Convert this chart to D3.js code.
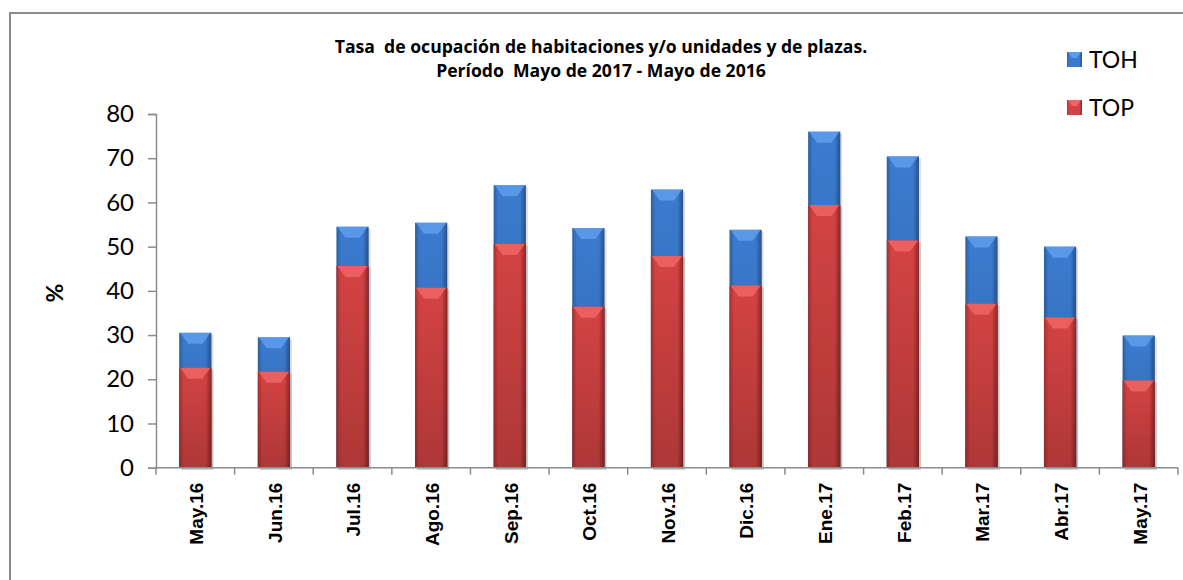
<!DOCTYPE html>
<html>
<head>
<meta charset="utf-8">
<script src="https://cdn.jsdelivr.net/npm/d3@7/dist/d3.min.js"></script>
<style>
	body { margin: 0; background: #fff; }
	svg { display: block; }
</style>
</head>
<body>
<div id="chart"></div>
<script>
var categories = ['May.16', 'Jun.16', 'Jul.16', 'Ago.16', 'Sep.16', 'Oct.16', 'Nov.16',
	'Dic.16', 'Ene.17', 'Feb.17', 'Mar.17', 'Abr.17', 'May.17'];
var tohValues = [30.5, 29.5, 54.5, 55.4, 63.9, 54.2, 62.9, 53.8, 76.0, 70.4, 52.3, 50.0, 29.9];
var topValues = [22.6, 21.7, 45.6, 40.7, 50.6, 36.4, 47.9, 41.2, 59.4, 51.4, 37.1, 34.0, 19.7];
var yTicks = [0, 10, 20, 30, 40, 50, 60, 70, 80];
var seriesNames = ['TOH', 'TOP'];
var titleLines = ['Tasa  de ocupación de habitaciones y/o unidades y de plazas.',
	'Período  Mayo de 2017 - Mayo de 2016'];

var w = 1183, h = 580;

var svg = d3.select('#chart')
	.append('svg')
	.attr('width', w)
	.attr('height', h);

// gradients for the bevelled bars
var defs = svg.append('defs');
function barGradient(id, edge, mid, edge2) {
	var g = defs.append('linearGradient').attr('id', id)
		.attr('x1', 0).attr('x2', 1).attr('y1', 0).attr('y2', 0);
	g.append('stop').attr('offset', '0%').attr('stop-color', edge);
	g.append('stop').attr('offset', '14%').attr('stop-color', mid);
	g.append('stop').attr('offset', '82%').attr('stop-color', mid);
	g.append('stop').attr('offset', '100%').attr('stop-color', edge2);
}
barGradient('gradBlue', '#2d5f9f', '#3b7bcf', '#27508a');
barGradient('gradRed', '#a83131', '#d44343', '#8f2626');

var shade = defs.append('linearGradient').attr('id', 'gradShade')
	.attr('x1', 0).attr('x2', 0).attr('y1', 0).attr('y2', 1);
shade.append('stop').attr('offset', '0%').attr('stop-color', '#000').attr('stop-opacity', 0);
shade.append('stop').attr('offset', '100%').attr('stop-color', '#000').attr('stop-opacity', 0.18);

// outer frame
svg.append('rect')
	.attr('x', 10).attr('y', 13)
	.attr('width', 1200).attr('height', 600)
	.attr('fill', 'none')
	.attr('stroke', '#8c8c8c')
	.attr('stroke-width', 2);

var x = d3.scaleBand()
	.domain(categories)
	.range([156, 1178])
	.paddingInner(0.59)
	.paddingOuter(0.295);

var y = d3.scaleLinear()
	.domain([0, 80])
	.range([467.7, 114]);

// title
svg.append('g').selectAll('text')
	.data(titleLines)
	.enter()
	.append('text')
	.attr('x', 601)
	.attr('y', function(d, i) { return 53 + i * 24; })
	.attr('text-anchor', 'middle')
	.style('white-space', 'pre')
	.style('font-family', '"Open Sans", sans-serif')
	.style('font-weight', 'bold')
	.style('font-size', '17.6px')
	.text(function(d) { return d; });

// y axis
var yAxis = svg.append('g')
	.attr('transform', 'translate(156,0)')
	.call(d3.axisLeft(y).tickValues(yTicks).tickSize(8).tickSizeOuter(8).tickPadding(14));
yAxis.select('.domain').attr('stroke', '#8c8c8c').attr('stroke-width', 1.5);
yAxis.selectAll('.tick line').attr('stroke', '#8c8c8c').attr('stroke-width', 1.5);
yAxis.selectAll('.tick text')
	.style('font-family', 'Lato, sans-serif')
	.style('font-size', '24px')
	.attr('fill', '#000');

svg.append('text')
	.attr('transform', 'translate(55,293) rotate(-90)')
	.attr('text-anchor', 'middle')
	.attr('dy', '0.35em')
	.style('font-family', 'Lato, sans-serif')
	.style('font-weight', 'bold')
	.style('font-size', '23px')
	.text('%');

// bars: TOH behind, TOP in front
function drawBars(values, grad, hi, cls) {
	var g = svg.append('g').attr('class', cls);
	var bars = g.selectAll('g')
		.data(values)
		.enter()
		.append('g');

	bars.append('rect')
		.attr('x', function(d, i) { return x(categories[i]) + 2; })
		.attr('y', function(d) { return y(d) + 2; })
		.attr('width', x.bandwidth())
		.attr('height', function(d) { return y(0) - y(d); })
		.attr('fill', '#000')
		.attr('opacity', 0.12);

	bars.append('rect')
		.attr('x', function(d, i) { return x(categories[i]); })
		.attr('y', function(d) { return y(d); })
		.attr('width', x.bandwidth())
		.attr('height', function(d) { return y(0) - y(d); })
		.attr('fill', 'url(#' + grad + ')');

	bars.append('rect')
		.attr('x', function(d, i) { return x(categories[i]); })
		.attr('y', function(d) { return y(d); })
		.attr('width', x.bandwidth())
		.attr('height', function(d) { return y(0) - y(d); })
		.attr('fill', 'url(#gradShade)');

	bars.append('path')
		.attr('d', function(d, i) {
			var x0 = x(categories[i]), bw = x.bandwidth(), y0 = y(d);
			return 'M' + (x0 + 1) + ',' + y0 +
				'L' + (x0 + bw - 1) + ',' + y0 +
				'L' + (x0 + bw * 0.72) + ',' + (y0 + 11) +
				'L' + (x0 + bw * 0.28) + ',' + (y0 + 11) + 'Z';
		})
		.attr('fill', hi)
		.attr('opacity', 0.85);
}
drawBars(tohValues, 'gradBlue', '#5f9eea', 'toh');
drawBars(topValues, 'gradRed', '#ef6464', 'top');

// x axis
var xAxisG = svg.append('g');
xAxisG.append('line')
	.attr('x1', x.range()[0]).attr('x2', x.range()[1])
	.attr('y1', y(0)).attr('y2', y(0))
	.attr('stroke', '#8c8c8c')
	.attr('stroke-width', 1.5);
xAxisG.selectAll('.xt')
	.data(d3.range(categories.length + 1))
	.enter()
	.append('line')
	.attr('x1', function(i) { return x.range()[0] + i * x.step(); })
	.attr('x2', function(i) { return x.range()[0] + i * x.step(); })
	.attr('y1', y(0))
	.attr('y2', y(0) + 7)
	.attr('stroke', '#8c8c8c')
	.attr('stroke-width', 1.5);

xAxisG.selectAll('.xl')
	.data(categories)
	.enter()
	.append('text')
	.attr('transform', function(d) {
		return 'translate(' + (x(d) + x.bandwidth() / 2 + 1) + ',' + (y(0) + 15) + ') rotate(-90)';
	})
	.attr('text-anchor', 'end')
	.attr('dy', '0.36em')
	.style('font-family', '"Liberation Sans", Arial, sans-serif')
	.style('font-weight', 'bold')
	.style('font-size', '19px')
	.text(function(d) { return d; });

// legend
var legend = svg.append('g').selectAll('g')
	.data(seriesNames)
	.enter()
	.append('g')
	.attr('transform', function(d, i) { return 'translate(1067,' + (52 + i * 48) + ')'; });
legend.append('rect')
	.attr('width', 15).attr('height', 15)
	.attr('fill', function(d, i) { return i === 0 ? 'url(#gradBlue)' : 'url(#gradRed)'; });
legend.append('path')
	.attr('d', 'M1,0L14,0L10,6L5,6Z')
	.attr('fill', function(d, i) { return i === 0 ? '#5f9eea' : '#ef6464'; });
legend.append('text')
	.attr('x', 22)
	.attr('y', 16)
	.style('font-family', 'Lato, sans-serif')
	.style('font-size', '23px')
	.text(function(d) { return d; });
</script>
</body>
</html>
